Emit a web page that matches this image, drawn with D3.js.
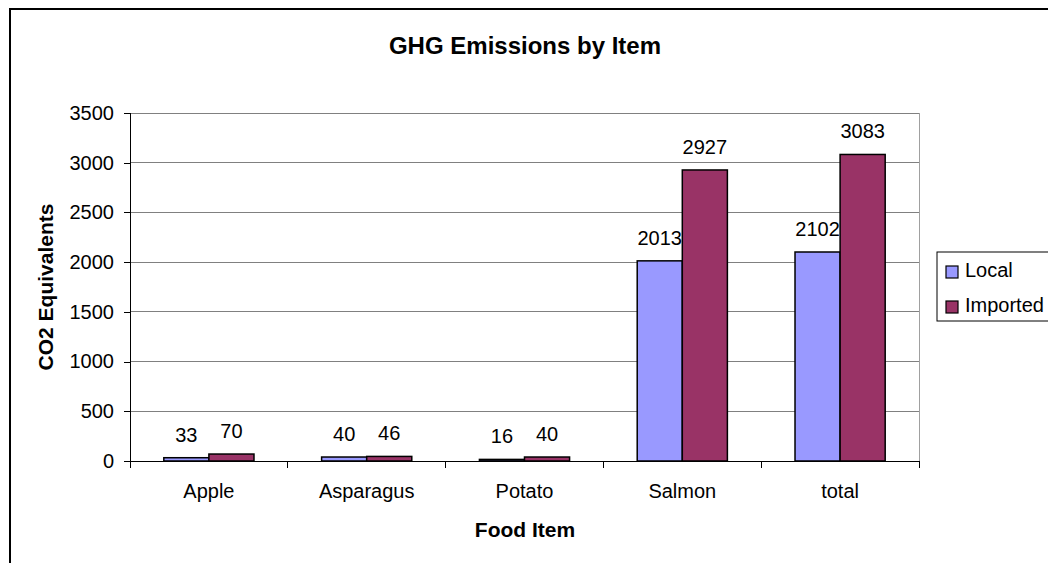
<!DOCTYPE html>
<html>
<head>
<meta charset="utf-8">
<script src="https://cdn.jsdelivr.net/npm/d3@7"></script>
<style>
  html, body { margin: 0; padding: 0; background: #fff; }
  svg { display: block; font-family: "Liberation Sans", Arial, sans-serif; }
</style>
</head>
<body>
<svg id="chart" width="1048" height="563"></svg>
<script>
// Food items and emissions (CO2 equivalents)
const categories = ["Apple", "Asparagus", "Potato", "Salmon", "total"];
const seriesNames = ["Local", "Imported"];
const localValues = [33, 40, 16, 2013, 2102];
const importedValues = [70, 46, 40, 2927, 3083];
const yTicks = [0, 500, 1000, 1500, 2000, 2500, 3000, 3500];
const colors = { Local: "#9999FF", Imported: "#993366" };

const rows = categories.map((c, i) => ({
  category: c,
  values: [
    { key: "Local", value: localValues[i] },
    { key: "Imported", value: importedValues[i] }
  ]
}));

const svg = d3.select("#chart");

// Outer chart frame
svg.append("rect")
  .attr("x", 10).attr("y", 9)
  .attr("width", 1100).attr("height", 620)
  .attr("fill", "#fff").attr("stroke", "#000").attr("stroke-width", 2);

const plot = { left: 130, right: 919, top: 113, bottom: 461 };

// Two bars per category with a gap of 1.5 bar widths between groups
const x0 = d3.scaleBand()
  .domain(categories)
  .range([plot.left, plot.right])
  .paddingInner(1.5 / 3.5)
  .paddingOuter(0.75 / 3.5);

const x1 = d3.scaleBand()
  .domain(seriesNames)
  .range([0, x0.bandwidth()]);

const y = d3.scaleLinear()
  .domain([0, 3500])
  .range([plot.bottom, plot.top]);

// Gridlines
svg.append("g")
  .selectAll("line")
  .data(yTicks.filter(t => t > 0))
  .join("line")
  .attr("x1", plot.left).attr("x2", plot.right)
  .attr("y1", d => y(d)).attr("y2", d => y(d))
  .attr("stroke", "#808080").attr("stroke-width", 1)
  .attr("shape-rendering", "crispEdges");

// Right edge of plot area
svg.append("line")
  .attr("x1", plot.right).attr("x2", plot.right)
  .attr("y1", plot.top).attr("y2", plot.bottom)
  .attr("stroke", "#a0a0a0").attr("stroke-width", 1)
  .attr("shape-rendering", "crispEdges");

// Bars
const groups = svg.append("g")
  .selectAll("g")
  .data(rows)
  .join("g")
  .attr("transform", d => `translate(${x0(d.category)},0)`);

groups.selectAll("rect")
  .data(d => d.values)
  .join("rect")
  .attr("x", d => x1(d.key))
  .attr("y", d => y(d.value))
  .attr("width", x1.bandwidth())
  .attr("height", d => y(0) - y(d.value))
  .attr("fill", d => colors[d.key])
  .attr("stroke", "#000").attr("stroke-width", 1.5);

// Value labels
groups.selectAll("text")
  .data(d => d.values)
  .join("text")
  .attr("x", d => x1(d.key) + x1.bandwidth() / 2)
  .attr("y", d => y(d.value) - 16)
  .attr("text-anchor", "middle")
  .attr("font-size", 20)
  .attr("fill", "#000")
  .text(d => d.value);

// Y axis
const yAxis = d3.axisLeft(y).tickValues(yTicks).tickSize(6).tickPadding(10).tickFormat(d3.format("d"));
const yg = svg.append("g")
  .attr("transform", `translate(${plot.left},0)`)
  .call(yAxis);
yg.select(".domain").attr("stroke", "#000").attr("shape-rendering", "crispEdges");
yg.selectAll(".tick line").attr("stroke", "#000").attr("shape-rendering", "crispEdges");
yg.selectAll(".tick text")
  .attr("font-size", 20).attr("font-family", "Liberation Sans, Arial, sans-serif")
  .attr("fill", "#000");

// X axis with ticks at category boundaries
const xg = svg.append("g")
  .attr("transform", `translate(0,${plot.bottom})`);
xg.append("line")
  .attr("x1", plot.left).attr("x2", plot.right)
  .attr("stroke", "#000").attr("shape-rendering", "crispEdges");
const boundaries = d3.range(categories.length + 1).map(i => plot.left + i * (plot.right - plot.left) / categories.length);
xg.selectAll("line.tick")
  .data(boundaries)
  .join("line")
  .attr("class", "tick")
  .attr("x1", d => d).attr("x2", d => d)
  .attr("y1", 0).attr("y2", 7)
  .attr("stroke", "#000").attr("shape-rendering", "crispEdges");
xg.selectAll("text")
  .data(categories)
  .join("text")
  .attr("x", d => x0(d) + x0.bandwidth() / 2)
  .attr("y", 37)
  .attr("text-anchor", "middle")
  .attr("font-size", 20)
  .text(d => d);

// Titles
svg.append("text")
  .attr("x", 525).attr("y", 54)
  .attr("text-anchor", "middle")
  .attr("font-size", 24).attr("font-weight", "bold")
  .text("GHG Emissions by Item");

svg.append("text")
  .attr("x", 525).attr("y", 537)
  .attr("text-anchor", "middle")
  .attr("font-size", 21).attr("font-weight", "bold")
  .text("Food Item");

svg.append("text")
  .attr("transform", `translate(53,${(plot.top + plot.bottom) / 2}) rotate(-90)`)
  .attr("text-anchor", "middle")
  .attr("font-size", 21).attr("font-weight", "bold")
  .text("CO2 Equivalents");

// Legend
const legend = svg.append("g").attr("transform", "translate(937,252)");
legend.append("rect")
  .attr("x", 0).attr("y", 0).attr("width", 140).attr("height", 69)
  .attr("fill", "#fff").attr("stroke", "#000").attr("stroke-width", 1);
const items = legend.selectAll("g.item")
  .data(seriesNames)
  .join("g")
  .attr("class", "item")
  .attr("transform", (d, i) => `translate(0,${i * 35})`);
items.append("rect")
  .attr("x", 9).attr("y", 14).attr("width", 12).attr("height", 12)
  .attr("fill", d => colors[d]).attr("stroke", "#000").attr("stroke-width", 1.2);
items.append("text")
  .attr("x", 28).attr("y", 25)
  .attr("font-size", 20)
  .text(d => d);
</script>
</body>
</html>
